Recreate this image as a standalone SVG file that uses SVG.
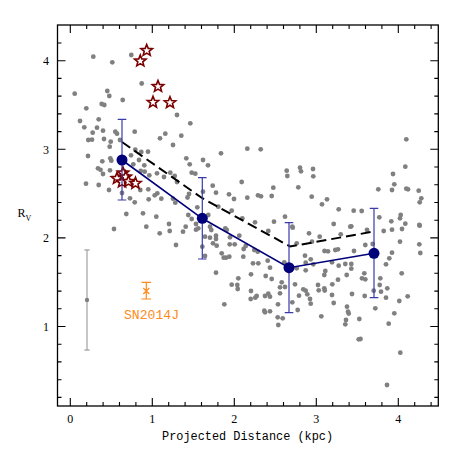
<svg xmlns="http://www.w3.org/2000/svg" width="463" height="463" viewBox="0 0 463 463">
<style>
.ax{stroke:#000;stroke-width:1.3;fill:none}
.tk{stroke:#000;stroke-width:1.1;fill:none}
.p{fill:#808080}
.st{fill:#fff;stroke:#7a0000;stroke-width:1.6;stroke-linejoin:miter}
.lb{font-family:"Liberation Serif",serif;font-size:12px;fill:#000}
.mono{font-family:"Liberation Mono",monospace}
.blu{stroke:#00007a;stroke-width:1.6;fill:none}
.beb{stroke:#3a3aa8;stroke-width:1.2;fill:none}
.bd{fill:#00007a}
.dash{stroke:#000;stroke-width:2;fill:none;stroke-dasharray:10 5}
.org{stroke:#ff8c1a;stroke-width:1.2;fill:none}
</style>
<defs>
<path id="star" d="M0,-6 L1.53,-2.1 5.71,-1.85 2.47,0.8 3.53,4.85 0,2.6 -3.53,4.85 -2.47,0.8 -5.71,-1.85 -1.53,-2.1 Z"/>
</defs>
<rect width="463" height="463" fill="#fff"/>
<g id="axes">
<rect class="ax" x="57.5" y="25" width="380.8" height="381"/>
<path class="tk" d="M70.3,406v-8M152.3,406v-8M234.3,406v-8M316.3,406v-8M398.3,406v-8M70.3,25v8M152.3,25v8M234.3,25v8M316.3,25v8M398.3,25v8
M86.7,406v-4M103.1,406v-4M119.5,406v-4M135.9,406v-4M168.7,406v-4M185.1,406v-4M201.5,406v-4M217.9,406v-4M250.7,406v-4M267.1,406v-4M283.5,406v-4M299.9,406v-4M332.7,406v-4M349.1,406v-4M365.5,406v-4M381.9,406v-4M414.7,406v-4M431.1,406v-4
M86.7,25v4M103.1,25v4M119.5,25v4M135.9,25v4M168.7,25v4M185.1,25v4M201.5,25v4M217.9,25v4M250.7,25v4M267.1,25v4M283.5,25v4M299.9,25v4M332.7,25v4M349.1,25v4M365.5,25v4M381.9,25v4M414.7,25v4M431.1,25v4
M57.5,60.7h8M57.5,149.3h8M57.5,237.9h8M57.5,326.5h8M438.3,60.7h-8M438.3,149.3h-8M438.3,237.9h-8M438.3,326.5h-8
M57.5,43h4M57.5,78.4h4M57.5,96.1h4M57.5,113.9h4M57.5,131.6h4M57.5,167h4M57.5,184.7h4M57.5,202.5h4M57.5,220.2h4M57.5,255.6h4M57.5,273.3h4M57.5,291.1h4M57.5,308.8h4M57.5,344.2h4M57.5,361.9h4M57.5,379.7h4M57.5,397.4h4
M438.3,43h-4M438.3,78.4h-4M438.3,96.1h-4M438.3,113.9h-4M438.3,131.6h-4M438.3,167h-4M438.3,184.7h-4M438.3,202.5h-4M438.3,220.2h-4M438.3,255.6h-4M438.3,273.3h-4M438.3,291.1h-4M438.3,308.8h-4M438.3,344.2h-4M438.3,361.9h-4M438.3,379.7h-4M438.3,397.4h-4"/>
<g class="lb" text-anchor="middle">
<text x="70.3" y="422.5">0</text><text x="152.3" y="422.5">1</text><text x="234.3" y="422.5">2</text><text x="316.3" y="422.5">3</text><text x="398.3" y="422.5">4</text>
</g>
<g class="lb" text-anchor="end">
<text x="49" y="65">4</text><text x="49" y="153.6">3</text><text x="49" y="242.2">2</text><text x="49" y="330.8">1</text>
</g>
<text class="lb mono" x="162" y="440" font-size="12.5" textLength="171" lengthAdjust="spacingAndGlyphs">Projected Distance (kpc)</text>
<text class="lb" x="17.5" y="217" font-size="12.5">R<tspan font-size="8" dy="3.5">V</tspan></text>
</g>
<g id="points">
<circle class="p" cx="74.7" cy="93.7" r="2.4"/><circle class="p" cx="93.3" cy="56.7" r="2.4"/><circle class="p" cx="112.3" cy="62.3" r="2.4"/><circle class="p" cx="131.3" cy="55" r="2.4"/><circle class="p" cx="141.7" cy="83.5" r="2.4"/><circle class="p" cx="107.3" cy="91" r="2.4"/><circle class="p" cx="109.3" cy="96" r="2.4"/>
<circle class="p" cx="86.3" cy="108.3" r="2.4"/><circle class="p" cx="101.7" cy="104" r="2.4"/><circle class="p" cx="104.3" cy="105" r="2.4"/><circle class="p" cx="122.7" cy="100" r="2.4"/><circle class="p" cx="80" cy="121" r="2.4"/><circle class="p" cx="84.3" cy="127.3" r="2.4"/><circle class="p" cx="98.7" cy="119.3" r="2.4"/><circle class="p" cx="97" cy="127.7" r="2.4"/><circle class="p" cx="92.7" cy="132.7" r="2.4"/><circle class="p" cx="103" cy="130.7" r="2.4"/><circle class="p" cx="88.3" cy="140" r="2.4"/><circle class="p" cx="92" cy="139.7" r="2.4"/><circle class="p" cx="104" cy="139" r="2.4"/><circle class="p" cx="110.7" cy="141.7" r="2.4"/><circle class="p" cx="115.3" cy="131.7" r="2.4"/><circle class="p" cx="117" cy="133.7" r="2.4"/><circle class="p" cx="134.7" cy="131.7" r="2.4"/><circle class="p" cx="120" cy="140" r="2.4"/><circle class="p" cx="109.7" cy="146.7" r="2.4"/><circle class="p" cx="135.3" cy="149.7" r="2.4"/><circle class="p" cx="141.3" cy="152" r="2.4"/><circle class="p" cx="148" cy="151.7" r="2.4"/><circle class="p" cx="177" cy="115" r="2.4"/><circle class="p" cx="165.3" cy="133.7" r="2.4"/><circle class="p" cx="160" cy="138.3" r="2.4"/><circle class="p" cx="173" cy="145" r="2.4"/><circle class="p" cx="181.3" cy="135.7" r="2.4"/><circle class="p" cx="186.3" cy="158.3" r="2.4"/><circle class="p" cx="88" cy="156" r="2.4"/><circle class="p" cx="102.3" cy="161.3" r="2.4"/><circle class="p" cx="110.3" cy="158.3" r="2.4"/><circle class="p" cx="111.3" cy="160.7" r="2.4"/><circle class="p" cx="131" cy="155.3" r="2.4"/><circle class="p" cx="139" cy="160" r="2.4"/><circle class="p" cx="144.3" cy="165.3" r="2.4"/><circle class="p" cx="133.3" cy="164.3" r="2.4"/><circle class="p" cx="98" cy="168.3" r="2.4"/><circle class="p" cx="100.5" cy="169.8" r="2.4"/><circle class="p" cx="110" cy="170.3" r="2.4"/><circle class="p" cx="103" cy="174" r="2.4"/><circle class="p" cx="140.7" cy="171" r="2.4"/><circle class="p" cx="144.7" cy="171.7" r="2.4"/><circle class="p" cx="149.3" cy="175.3" r="2.4"/><circle class="p" cx="157" cy="173.3" r="2.4"/><circle class="p" cx="164" cy="177" r="2.4"/><circle class="p" cx="170.3" cy="172.7" r="2.4"/><circle class="p" cx="174.7" cy="176" r="2.4"/><circle class="p" cx="177" cy="182" r="2.4"/><circle class="p" cx="86" cy="183.7" r="2.4"/><circle class="p" cx="98.7" cy="185" r="2.4"/><circle class="p" cx="109" cy="190" r="2.4"/><circle class="p" cx="140.3" cy="190" r="2.4"/><circle class="p" cx="148.3" cy="189.3" r="2.4"/><circle class="p" cx="154.7" cy="195.3" r="2.4"/><circle class="p" cx="157.3" cy="193.3" r="2.4"/><circle class="p" cx="148.7" cy="199.3" r="2.4"/><circle class="p" cx="161.3" cy="198.7" r="2.4"/><circle class="p" cx="173" cy="198.7" r="2.4"/><circle class="p" cx="175.3" cy="202.7" r="2.4"/><circle class="p" cx="134.7" cy="202.3" r="2.4"/><circle class="p" cx="143" cy="213.3" r="2.4"/><circle class="p" cx="156.3" cy="216.7" r="2.4"/><circle class="p" cx="126.3" cy="214" r="2.4"/><circle class="p" cx="146.3" cy="226.7" r="2.4"/><circle class="p" cx="169" cy="224" r="2.4"/><circle class="p" cx="114" cy="229" r="2.4"/><circle class="p" cx="122" cy="193" r="2.4"/><circle class="p" cx="130" cy="198.3" r="2.4"/><circle class="p" cx="187.5" cy="197.5" r="2.4"/>
<circle class="p" cx="190.3" cy="123.3" r="2.4"/><circle class="p" cx="221" cy="153.3" r="2.4"/><circle class="p" cx="247.3" cy="148.7" r="2.4"/><circle class="p" cx="260.7" cy="149.3" r="2.4"/><circle class="p" cx="189.7" cy="164.3" r="2.4"/><circle class="p" cx="203" cy="160" r="2.4"/><circle class="p" cx="208" cy="165.3" r="2.4"/><circle class="p" cx="191.7" cy="172.7" r="2.4"/><circle class="p" cx="195.3" cy="173.7" r="2.4"/><circle class="p" cx="286.7" cy="170.7" r="2.4"/><circle class="p" cx="287.3" cy="176" r="2.4"/><circle class="p" cx="300" cy="167.7" r="2.4"/><circle class="p" cx="301" cy="171.3" r="2.4"/><circle class="p" cx="313" cy="169" r="2.4"/><circle class="p" cx="313.3" cy="176.3" r="2.4"/><circle class="p" cx="241.7" cy="182" r="2.4"/><circle class="p" cx="273.3" cy="187.7" r="2.4"/><circle class="p" cx="298.3" cy="187.3" r="2.4"/><circle class="p" cx="311.7" cy="196.7" r="2.4"/><circle class="p" cx="203" cy="191.7" r="2.4"/><circle class="p" cx="212.7" cy="185.7" r="2.4"/><circle class="p" cx="216" cy="192.7" r="2.4"/><circle class="p" cx="229" cy="194.3" r="2.4"/><circle class="p" cx="234" cy="199" r="2.4"/><circle class="p" cx="247.3" cy="197.7" r="2.4"/><circle class="p" cx="258" cy="195.3" r="2.4"/><circle class="p" cx="261" cy="196.3" r="2.4"/><circle class="p" cx="271.7" cy="196" r="2.4"/><circle class="p" cx="189" cy="194" r="2.4"/><circle class="p" cx="197.3" cy="207.3" r="2.4"/><circle class="p" cx="218.3" cy="206.7" r="2.4"/><circle class="p" cx="231.7" cy="210.7" r="2.4"/><circle class="p" cx="208.3" cy="215" r="2.4"/><circle class="p" cx="242.3" cy="218.3" r="2.4"/><circle class="p" cx="255" cy="222.3" r="2.4"/><circle class="p" cx="274" cy="221.7" r="2.4"/><circle class="p" cx="285" cy="216.7" r="2.4"/><circle class="p" cx="292.3" cy="226.7" r="2.4"/><circle class="p" cx="188.3" cy="215" r="2.4"/><circle class="p" cx="191.7" cy="219" r="2.4"/><circle class="p" cx="196" cy="224" r="2.4"/><circle class="p" cx="210" cy="226.7" r="2.4"/><circle class="p" cx="225.3" cy="228.3" r="2.4"/><circle class="p" cx="198.3" cy="228.3" r="2.4"/>
<circle class="p" cx="406.3" cy="139.3" r="2.4"/><circle class="p" cx="405.3" cy="166.7" r="2.4"/><circle class="p" cx="393" cy="174" r="2.4"/><circle class="p" cx="394.3" cy="184.3" r="2.4"/><circle class="p" cx="378.3" cy="189.3" r="2.4"/><circle class="p" cx="392" cy="190" r="2.4"/><circle class="p" cx="406.3" cy="188.7" r="2.4"/><circle class="p" cx="408" cy="189.3" r="2.4"/><circle class="p" cx="418.7" cy="190.7" r="2.4"/><circle class="p" cx="421.3" cy="198.3" r="2.4"/><circle class="p" cx="419.7" cy="202.3" r="2.4"/><circle class="p" cx="322" cy="204.3" r="2.4"/><circle class="p" cx="327" cy="199.3" r="2.4"/><circle class="p" cx="338.7" cy="209.3" r="2.4"/><circle class="p" cx="353.7" cy="210.7" r="2.4"/><circle class="p" cx="361.7" cy="211" r="2.4"/><circle class="p" cx="379.3" cy="217.3" r="2.4"/><circle class="p" cx="391.3" cy="221.3" r="2.4"/><circle class="p" cx="400.7" cy="215" r="2.4"/><circle class="p" cx="400" cy="218.3" r="2.4"/><circle class="p" cx="405.3" cy="223.7" r="2.4"/><circle class="p" cx="419.7" cy="225.7" r="2.4"/><circle class="p" cx="333.7" cy="224" r="2.4"/><circle class="p" cx="351.3" cy="226.3" r="2.4"/><circle class="p" cx="367" cy="230" r="2.4"/>
<circle class="p" cx="159.7" cy="233.3" r="2.4"/><circle class="p" cx="169.7" cy="231" r="2.4"/><circle class="p" cx="183" cy="231.7" r="2.4"/><circle class="p" cx="185.7" cy="226.7" r="2.4"/><circle class="p" cx="176" cy="245" r="2.4"/>
<circle class="p" cx="196" cy="229.7" r="2.4"/><circle class="p" cx="211.3" cy="230" r="2.4"/><circle class="p" cx="205" cy="236.7" r="2.4"/><circle class="p" cx="210" cy="237.7" r="2.4"/><circle class="p" cx="216" cy="235.7" r="2.4"/><circle class="p" cx="216" cy="239" r="2.4"/><circle class="p" cx="202.3" cy="246.7" r="2.4"/><circle class="p" cx="205" cy="256" r="2.4"/><circle class="p" cx="213" cy="243.3" r="2.4"/><circle class="p" cx="216.7" cy="245.7" r="2.4"/><circle class="p" cx="226.7" cy="230" r="2.4"/><circle class="p" cx="230" cy="237.3" r="2.4"/><circle class="p" cx="229.7" cy="244.3" r="2.4"/><circle class="p" cx="234.7" cy="244.3" r="2.4"/><circle class="p" cx="239.3" cy="235.7" r="2.4"/><circle class="p" cx="243.7" cy="249" r="2.4"/><circle class="p" cx="245.7" cy="246" r="2.4"/><circle class="p" cx="254.3" cy="250" r="2.4"/><circle class="p" cx="257.7" cy="251.7" r="2.4"/><circle class="p" cx="221.7" cy="253.3" r="2.4"/><circle class="p" cx="223.7" cy="257.7" r="2.4"/><circle class="p" cx="226" cy="257.7" r="2.4"/><circle class="p" cx="229.3" cy="256.7" r="2.4"/><circle class="p" cx="243.3" cy="256.7" r="2.4"/><circle class="p" cx="253" cy="263.3" r="2.4"/><circle class="p" cx="258.3" cy="263.3" r="2.4"/><circle class="p" cx="267.7" cy="260.7" r="2.4"/><circle class="p" cx="270" cy="267.7" r="2.4"/><circle class="p" cx="216" cy="272.7" r="2.4"/><circle class="p" cx="251" cy="274.3" r="2.4"/><circle class="p" cx="265.7" cy="276" r="2.4"/><circle class="p" cx="271.7" cy="279" r="2.4"/><circle class="p" cx="238.3" cy="278.3" r="2.4"/><circle class="p" cx="237.3" cy="285" r="2.4"/><circle class="p" cx="237.7" cy="289" r="2.4"/><circle class="p" cx="231.7" cy="284.7" r="2.4"/><circle class="p" cx="251" cy="291" r="2.4"/><circle class="p" cx="256.7" cy="296" r="2.4"/><circle class="p" cx="255.3" cy="297.7" r="2.4"/><circle class="p" cx="250.7" cy="299" r="2.4"/><circle class="p" cx="265" cy="296" r="2.4"/><circle class="p" cx="270" cy="296.7" r="2.4"/><circle class="p" cx="268.3" cy="293.7" r="2.4"/><circle class="p" cx="224.3" cy="304.3" r="2.4"/><circle class="p" cx="264.3" cy="310.7" r="2.4"/><circle class="p" cx="265" cy="312.3" r="2.4"/><circle class="p" cx="270" cy="311.3" r="2.4"/><circle class="p" cx="278" cy="304.3" r="2.4"/><circle class="p" cx="277.7" cy="317.3" r="2.4"/><circle class="p" cx="282.7" cy="318.3" r="2.4"/><circle class="p" cx="278.3" cy="325" r="2.4"/><circle class="p" cx="268.3" cy="231" r="2.4"/><circle class="p" cx="281.7" cy="282.3" r="2.4"/><circle class="p" cx="285" cy="287" r="2.4"/><circle class="p" cx="280" cy="287.3" r="2.4"/><circle class="p" cx="280" cy="293.3" r="2.4"/><circle class="p" cx="295" cy="284.3" r="2.4"/><circle class="p" cx="299" cy="295.7" r="2.4"/><circle class="p" cx="292.3" cy="302.3" r="2.4"/><circle class="p" cx="297.7" cy="310" r="2.4"/><circle class="p" cx="284.3" cy="262.3" r="2.4"/><circle class="p" cx="296.7" cy="268.3" r="2.4"/><circle class="p" cx="305" cy="255.7" r="2.4"/><circle class="p" cx="305.7" cy="262.7" r="2.4"/><circle class="p" cx="305.7" cy="270.3" r="2.4"/><circle class="p" cx="309" cy="233.3" r="2.4"/><circle class="p" cx="310.7" cy="259.3" r="2.4"/><circle class="p" cx="303.3" cy="289.3" r="2.4"/><circle class="p" cx="305.7" cy="290.7" r="2.4"/><circle class="p" cx="307.3" cy="294.3" r="2.4"/><circle class="p" cx="310" cy="299" r="2.4"/><circle class="p" cx="310.7" cy="303.7" r="2.4"/><circle class="p" cx="292.7" cy="227.7" r="2.4"/><circle class="p" cx="296.7" cy="243.3" r="2.4"/><circle class="p" cx="313.3" cy="264.3" r="2.4"/><circle class="p" cx="312" cy="241.7" r="2.4"/>
<circle class="p" cx="319.7" cy="236.7" r="2.4"/><circle class="p" cx="324.5" cy="251" r="2.4"/><circle class="p" cx="328" cy="251.3" r="2.4"/><circle class="p" cx="335.3" cy="250" r="2.4"/><circle class="p" cx="338" cy="249.3" r="2.4"/><circle class="p" cx="340.7" cy="234.3" r="2.4"/><circle class="p" cx="350.3" cy="226.7" r="2.4"/><circle class="p" cx="354" cy="251" r="2.4"/><circle class="p" cx="365.3" cy="245" r="2.4"/><circle class="p" cx="372.7" cy="244" r="2.4"/><circle class="p" cx="383.7" cy="231" r="2.4"/><circle class="p" cx="392" cy="229.7" r="2.4"/><circle class="p" cx="402" cy="229" r="2.4"/><circle class="p" cx="400" cy="241.7" r="2.4"/><circle class="p" cx="419.3" cy="244.3" r="2.4"/><circle class="p" cx="420.3" cy="253" r="2.4"/><circle class="p" cx="392" cy="252.7" r="2.4"/><circle class="p" cx="389.3" cy="258.3" r="2.4"/><circle class="p" cx="386" cy="264.3" r="2.4"/><circle class="p" cx="332" cy="262.3" r="2.4"/><circle class="p" cx="338.7" cy="265.7" r="2.4"/><circle class="p" cx="345.3" cy="264" r="2.4"/><circle class="p" cx="351.3" cy="264" r="2.4"/><circle class="p" cx="351.3" cy="268.7" r="2.4"/><circle class="p" cx="325.3" cy="271" r="2.4"/><circle class="p" cx="324.3" cy="275" r="2.4"/><circle class="p" cx="338" cy="279.7" r="2.4"/><circle class="p" cx="346.7" cy="275" r="2.4"/><circle class="p" cx="364.3" cy="273.3" r="2.4"/><circle class="p" cx="362" cy="278.3" r="2.4"/><circle class="p" cx="365.3" cy="279.3" r="2.4"/><circle class="p" cx="318" cy="285" r="2.4"/><circle class="p" cx="318.7" cy="290.3" r="2.4"/><circle class="p" cx="324.3" cy="288.3" r="2.4"/><circle class="p" cx="324.7" cy="290.5" r="2.4"/><circle class="p" cx="332.3" cy="284.3" r="2.4"/><circle class="p" cx="332" cy="295" r="2.4"/><circle class="p" cx="333.7" cy="303" r="2.4"/><circle class="p" cx="352" cy="294" r="2.4"/><circle class="p" cx="364.7" cy="296" r="2.4"/><circle class="p" cx="373.7" cy="290.7" r="2.4"/><circle class="p" cx="380.3" cy="278.3" r="2.4"/><circle class="p" cx="379.7" cy="285" r="2.4"/><circle class="p" cx="387.3" cy="288.3" r="2.4"/><circle class="p" cx="381" cy="291.7" r="2.4"/><circle class="p" cx="386" cy="297.7" r="2.4"/><circle class="p" cx="401.7" cy="273.3" r="2.4"/><circle class="p" cx="399.3" cy="301" r="2.4"/><circle class="p" cx="407.7" cy="296.3" r="2.4"/><circle class="p" cx="347" cy="306.7" r="2.4"/><circle class="p" cx="348" cy="311.7" r="2.4"/><circle class="p" cx="348.7" cy="313.5" r="2.4"/><circle class="p" cx="346" cy="320" r="2.4"/><circle class="p" cx="345.3" cy="324.3" r="2.4"/><circle class="p" cx="321.3" cy="316.3" r="2.4"/><circle class="p" cx="359.3" cy="319" r="2.4"/><circle class="p" cx="375.3" cy="308.3" r="2.4"/><circle class="p" cx="394.3" cy="313.3" r="2.4"/><circle class="p" cx="388.7" cy="323.7" r="2.4"/><circle class="p" cx="358.7" cy="339.3" r="2.4"/><circle class="p" cx="360.5" cy="339" r="2.4"/><circle class="p" cx="400.3" cy="352.7" r="2.4"/><circle class="p" cx="387" cy="385" r="2.4"/><circle class="p" cx="419.3" cy="225" r="2.4"/>
</g>
<g id="gray-errorbar">
<path d="M87,250V350M84.5,250h5M84.5,350h5" stroke="#aaaaaa" stroke-width="1.3" fill="none"/>
<circle cx="87" cy="300" r="2.2" fill="#808080"/>
</g>
<g id="stars">
<use href="#star" class="st" x="146.7" y="50.5"/><use href="#star" class="st" x="140.3" y="61"/><use href="#star" class="st" x="158" y="86.5"/><use href="#star" class="st" x="153" y="102.3"/><use href="#star" class="st" x="170" y="102.7"/>
<use href="#star" class="st" x="123" y="173"/><use href="#star" class="st" x="117" y="178.5"/><use href="#star" class="st" x="125.7" y="177"/><use href="#star" class="st" x="122" y="182"/><use href="#star" class="st" x="128.5" y="181.5"/><use href="#star" class="st" x="135.5" y="183.3"/>
</g>
<g id="connectors">
<polyline class="dash" points="122,142 202,198 290,246.5 374,231.5"/>
<polyline class="blu" points="122,160 202,218.3 289,267.7 374,253.3"/>
<path class="beb" d="M122,119.3V200M117.7,119.3h8.6M117.7,200h8.6M202.3,177.7V259M198,177.7h8.6M198,259h8.6M289,222.7V312.7M284.7,222.7h8.6M284.7,312.7h8.6M374,208.3V297.7M369.7,208.3h8.6M369.7,297.7h8.6"/>
</g>
<g id="bins">
<circle class="bd" cx="122" cy="160" r="5.5"/><circle class="bd" cx="202.3" cy="218.3" r="5.5"/><circle class="bd" cx="289" cy="267.7" r="5.5"/><circle class="bd" cx="374" cy="253.3" r="5.5"/>
</g>
<g id="sn2014j">
<path class="org" d="M146.3,282.3V299M141.5,282.3h9.6M141.5,299h9.6M143.3,288l6,6M149.3,288l-6,6"/>
<text class="mono" x="124" y="318.5" font-size="13" fill="#ff8c1a" textLength="55" lengthAdjust="spacingAndGlyphs">SN2014J</text>
</g>
</svg>
